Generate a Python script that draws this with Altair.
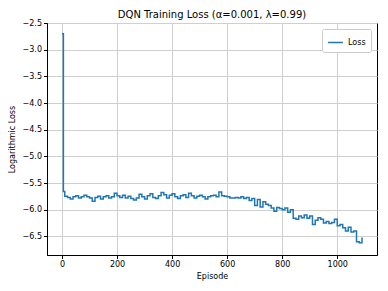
import altair as alt
import pandas as pd

episodes = [0, 5] + list(range(10, 1091, 10))
loss = [
    -2.70, -5.66,
    -5.75, -5.77, -5.80, -5.76, -5.74, -5.78, -5.76, -5.73, -5.76, -5.78,  # 10-100
    -5.84, -5.77, -5.75, -5.80, -5.76, -5.74, -5.78, -5.76, -5.69, -5.74,  # 110-200
    -5.77, -5.73, -5.78, -5.75, -5.79, -5.82, -5.78, -5.71, -5.76, -5.80,  # 210-300
    -5.74, -5.70, -5.77, -5.79, -5.74, -5.68, -5.72, -5.78, -5.73, -5.70,  # 310-400
    -5.76, -5.79, -5.74, -5.72, -5.77, -5.69, -5.74, -5.78, -5.75, -5.73,  # 410-500
    -5.76, -5.80, -5.76, -5.74, -5.73, -5.76, -5.67, -5.74, -5.75, -5.76,  # 510-600
    -5.78, -5.78, -5.77, -5.78, -5.76, -5.79, -5.77, -5.83, -5.79, -5.92,  # 610-700
    -5.81, -5.95, -5.85, -5.90, -5.92, -5.97, -6.03, -5.96, -5.98, -6.00,  # 710-800
    -5.97, -6.05, -6.00, -6.16, -6.18, -6.12, -6.15, -6.10, -6.16, -6.12,  # 810-900
    -6.28, -6.20, -6.15, -6.18, -6.25, -6.22, -6.26, -6.24, -6.18, -6.30,  # 910-1000
    -6.28, -6.34, -6.40, -6.33, -6.42, -6.40, -6.60, -6.62, -6.52,        # 1010-1090
]
series = ["Loss"] * len(episodes)

df = pd.DataFrame({"Episode": episodes, "loss": loss, "series": series})

x_ticks = [0, 200, 400, 600, 800, 1000]
y_ticks = [-6.5, -6.0, -5.5, -5.0, -4.5, -4.0, -3.5, -3.0, -2.5]

font = "DejaVu Sans"

chart = alt.Chart(df).mark_line(
    interpolate="step-after", strokeWidth=1.5, clip=True
).encode(
    x=alt.X("Episode:Q",
            scale=alt.Scale(domain=[-54.5, 1144.5], nice=False, zero=False),
            axis=alt.Axis(values=x_ticks, title="Episode", format="d")),
    y=alt.Y("loss:Q",
            scale=alt.Scale(domain=[-6.85, -2.5], nice=False, zero=False),
            axis=alt.Axis(values=y_ticks, title="Logarithmic Loss", format=".1f")),
    color=alt.Color("series:N",
                    scale=alt.Scale(range=["#1f77b4"]),
                    legend=alt.Legend(title=None, orient="top-right", offset=6,
                                      symbolType="stroke", symbolSize=220,
                                      symbolStrokeWidth=1.5,
                                      strokeColor="#cccccc", fillColor="white",
                                      padding=5, cornerRadius=2,
                                      labelFont=font, labelFontSize=8,
                                      labelColor="black")),
).properties(
    width=330,
    height=232,
    title=alt.TitleParams("DQN Training Loss (α=0.001, λ=0.99)", font=font,
                          fontSize=10, fontWeight="normal", color="black",
                          anchor="middle", offset=-1),
    autosize=alt.AutoSizeParams(type="none"),
    padding={"left": 39, "top": 15, "right": 3, "bottom": 28},
).configure_axis(
    labelFont=font, labelFontSize=8, labelColor="black",
    titleFont=font, titleFontSize=8, titleFontWeight="normal", titleColor="black",
    domainColor="black", domainWidth=1, tickColor="black", tickSize=3.5,
    labelPadding=2, gridColor="#cfcfcf", gridWidth=1,
).configure_axisY(titlePadding=6).configure_axisX(titlePadding=4
).configure_view(stroke="black", strokeWidth=1)

chart.save("out.html", embed_options={"renderer": "svg", "actions": False})
